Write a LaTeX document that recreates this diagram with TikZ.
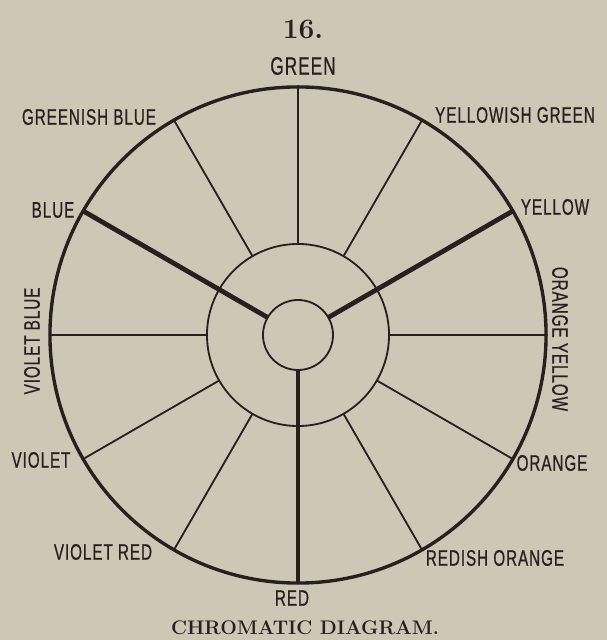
\documentclass[tikz,border=0pt]{standalone}
\usepackage{fontspec}
\usepackage{tikz}
\usetikzlibrary{positioning}
\newfontfamily\hueFont[FakeStretch=0.68, LetterSpace=4, FakeBold=0.6]{Liberation Sans}
\definecolor{paperTan}{RGB}{206,199,182}
\definecolor{inkBrown}{RGB}{40,32,30}
\tikzset{
  ring/.style={circle, draw=inkBrown, inner sep=0pt, outer sep=0pt},
  spoke/.style={draw=inkBrown, line width=1.3pt},
  keyspoke/.style={draw=inkBrown, line width=3.4pt},
  huename/.style={font=\hueFont\fontsize{16}{16}\selectfont, text=inkBrown, inner sep=1pt},
  plateText/.style={text=inkBrown, inner sep=1pt}
}

\begin{document}
\begin{tikzpicture}[x=0.025cm, y=0.025cm]
\fill[paperTan] (0,0) rectangle (607,640);
\useasboundingbox (0,0) rectangle (607,640);
% wheel
\coordinate (c) at (298,305);
\node[ring, line width=2.4pt, minimum size=12.4cm] (outer) at (c) {};
\node[ring, line width=1.3pt, minimum size=4.55cm] (middle) at (c) {};
\node[ring, line width=1.3pt, minimum size=1.75cm] (inner) at (c) {};
\foreach \a in {90,60,0,330,300,240,210,180,120}
  \draw[spoke] (middle.\a) -- (outer.\a);
\foreach \a in {150,30,270}
  \draw[keyspoke] (inner.\a) -- (outer.\a);
% names round the rim
\node[plateText, font=\bfseries\fontsize{20}{20}\selectfont] (plateNo) at (303,611) {16.};
\node[huename, font=\hueFont\fontsize{18}{18}\selectfont] (green) at (303,574) {GREEN};
\node[huename] (greenishBlue) at (89,523) {GREENISH BLUE};
\node[huename] (yellowishGreen) at (515,525) {YELLOWISH GREEN};
\node[huename] (blue) at (53,430) {BLUE};
\node[huename] (yellow) at (555,433) {YELLOW};
\node[huename, rotate=90] (violetBlue) at (32,299) {VIOLET BLUE};
\node[huename, rotate=-90] (orangeYellow) at (560,301) {ORANGE YELLOW};
\node[huename] (violet) at (41,180) {VIOLET};
\node[huename] (orange) at (552,177) {ORANGE};
\node[huename] (violetRed) at (103,88) {VIOLET RED};
\node[huename] (redishOrange) at (495,82) {REDISH ORANGE};
\node[huename] (red) at (292,42) {RED};
\node[plateText, font=\bfseries\fontsize{14}{14}\selectfont\addfontfeature{LetterSpace=12}] (caption) at (305,12) {CHROMATIC DIAGRAM.};
\end{tikzpicture}
\end{document}
